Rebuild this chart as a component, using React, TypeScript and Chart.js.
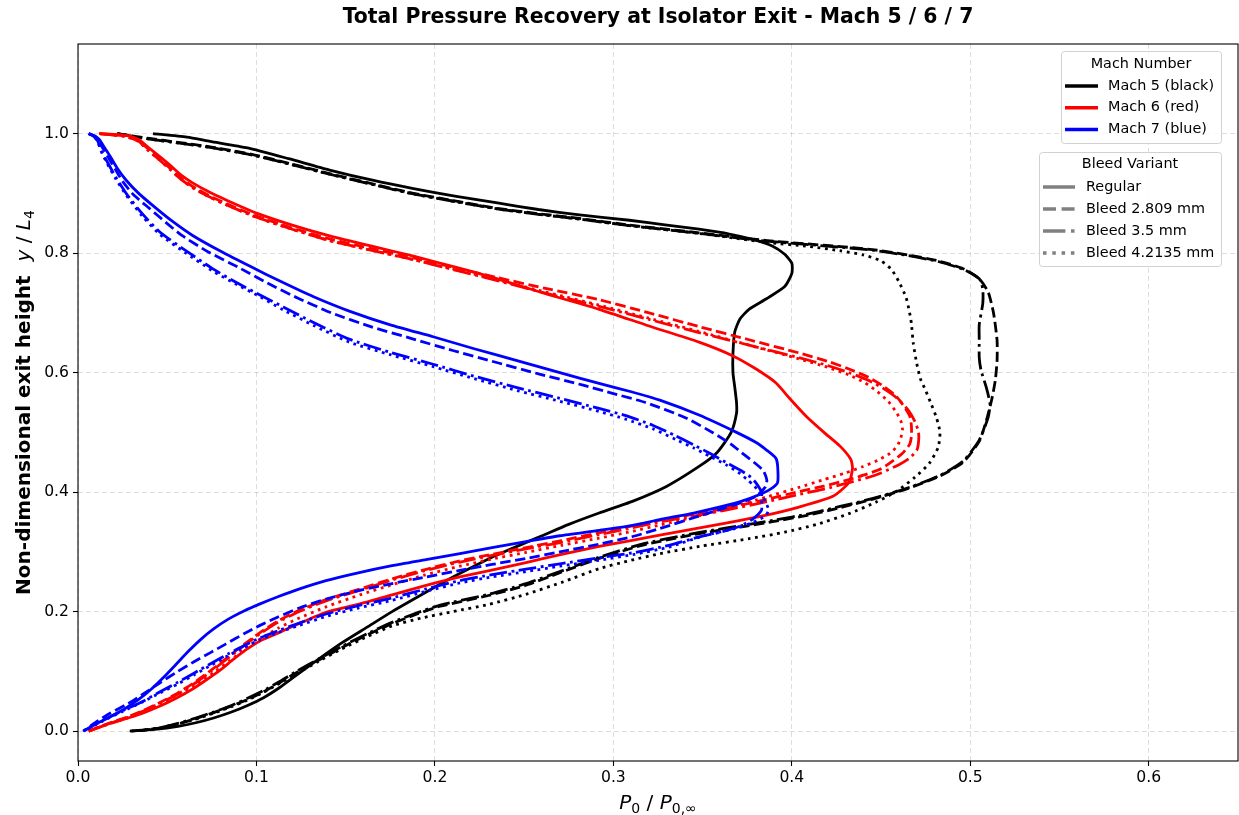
import React, { useEffect, useRef } from 'react';
import { Chart, registerables } from 'chart.js';

Chart.register(...registerables);

type Pt = [number, number];

// ---- Exit profiles: [P0/P0,inf, y/L4] ----

// Mach 5
const mach5Regular: Pt[] = [
  [0.042, 1.0], [0.061, 0.994], [0.074, 0.987], [0.095, 0.976], [0.118, 0.958], [0.141, 0.939], [0.165, 0.922],
  [0.188, 0.908], [0.212, 0.895], [0.235, 0.884], [0.258, 0.873], [0.281, 0.864], [0.309, 0.855], [0.33, 0.847],
  [0.348, 0.84], [0.365, 0.832], [0.378, 0.823], [0.389, 0.812], [0.396, 0.798], [0.4, 0.783], [0.4, 0.766],
  [0.396, 0.744], [0.386, 0.724], [0.376, 0.706], [0.371, 0.69], [0.368, 0.668], [0.367, 0.632], [0.367, 0.6],
  [0.368, 0.576], [0.369, 0.55], [0.369, 0.532], [0.366, 0.5], [0.358, 0.466], [0.348, 0.443], [0.33, 0.41],
  [0.311, 0.385], [0.292, 0.365], [0.275, 0.346], [0.26, 0.327], [0.245, 0.308], [0.232, 0.291], [0.218, 0.27],
  [0.204, 0.248], [0.19, 0.224], [0.176, 0.2], [0.162, 0.174], [0.148, 0.148], [0.135, 0.121], [0.123, 0.095],
  [0.113, 0.073], [0.104, 0.056], [0.095, 0.043], [0.086, 0.032], [0.076, 0.022], [0.066, 0.014], [0.056, 0.008],
  [0.043, 0.003], [0.029, 0.0],
];
const mach5Bleed2809: Pt[] = [
  [0.022, 1.0], [0.04, 0.992], [0.057, 0.985], [0.074, 0.978], [0.098, 0.965], [0.12, 0.949], [0.141, 0.933],
  [0.165, 0.916], [0.188, 0.9], [0.212, 0.887], [0.235, 0.875], [0.258, 0.866], [0.281, 0.858], [0.309, 0.847],
  [0.348, 0.834], [0.386, 0.821], [0.423, 0.812], [0.445, 0.806], [0.465, 0.797], [0.482, 0.787], [0.496, 0.774],
  [0.505, 0.757], [0.51, 0.735], [0.513, 0.7], [0.515, 0.654], [0.515, 0.62], [0.514, 0.587], [0.512, 0.555],
  [0.509, 0.52], [0.505, 0.485], [0.496, 0.45], [0.483, 0.427], [0.464, 0.405], [0.445, 0.388], [0.427, 0.374],
  [0.41, 0.362], [0.39, 0.351], [0.372, 0.342], [0.355, 0.334], [0.34, 0.326], [0.316, 0.311], [0.292, 0.289],
  [0.27, 0.265], [0.25, 0.243], [0.23, 0.227], [0.203, 0.209], [0.19, 0.196], [0.176, 0.18], [0.162, 0.161],
  [0.148, 0.14], [0.135, 0.119], [0.123, 0.099], [0.113, 0.081], [0.104, 0.066], [0.095, 0.053], [0.086, 0.042],
  [0.076, 0.031], [0.066, 0.021], [0.056, 0.012], [0.043, 0.004], [0.03, 0.0],
];
const mach5Bleed35: Pt[] = [
  [0.022, 1.0], [0.04, 0.991], [0.057, 0.984], [0.074, 0.977], [0.098, 0.964], [0.12, 0.948], [0.141, 0.932],
  [0.165, 0.915], [0.188, 0.899], [0.212, 0.886], [0.235, 0.874], [0.258, 0.865], [0.281, 0.857], [0.309, 0.846],
  [0.348, 0.833], [0.386, 0.82], [0.423, 0.811], [0.445, 0.805], [0.465, 0.796], [0.482, 0.786], [0.496, 0.773],
  [0.505, 0.757], [0.507, 0.74], [0.507, 0.716], [0.505, 0.68], [0.505, 0.654], [0.505, 0.625], [0.506, 0.604],
  [0.509, 0.575], [0.511, 0.548], [0.51, 0.525], [0.505, 0.487], [0.496, 0.452], [0.483, 0.428], [0.464, 0.406],
  [0.445, 0.389], [0.427, 0.376], [0.41, 0.364], [0.39, 0.353], [0.372, 0.344], [0.355, 0.336], [0.34, 0.328],
  [0.316, 0.313], [0.292, 0.291], [0.27, 0.267], [0.25, 0.246], [0.23, 0.229], [0.203, 0.211], [0.19, 0.198],
  [0.176, 0.182], [0.162, 0.163], [0.148, 0.142], [0.135, 0.121], [0.123, 0.101], [0.113, 0.083], [0.104, 0.068],
  [0.095, 0.055], [0.086, 0.043], [0.076, 0.032], [0.066, 0.022], [0.056, 0.013], [0.043, 0.004], [0.03, 0.0],
];
const mach5Bleed42135: Pt[] = [
  [0.022, 1.0], [0.04, 0.991], [0.057, 0.984], [0.074, 0.977], [0.098, 0.964], [0.12, 0.948], [0.141, 0.932],
  [0.165, 0.915], [0.188, 0.899], [0.212, 0.886], [0.235, 0.874], [0.258, 0.865], [0.281, 0.857], [0.309, 0.846],
  [0.348, 0.833], [0.386, 0.818], [0.41, 0.811], [0.427, 0.804], [0.44, 0.797], [0.45, 0.787], [0.456, 0.772],
  [0.46, 0.752], [0.464, 0.726], [0.466, 0.7], [0.467, 0.682], [0.468, 0.65], [0.47, 0.615], [0.472, 0.59],
  [0.475, 0.57], [0.478, 0.548], [0.481, 0.525], [0.483, 0.5], [0.482, 0.475], [0.477, 0.448], [0.469, 0.425],
  [0.459, 0.402], [0.447, 0.383], [0.432, 0.364], [0.414, 0.346], [0.396, 0.333], [0.376, 0.322], [0.35, 0.31],
  [0.326, 0.297], [0.31, 0.286], [0.292, 0.272], [0.272, 0.25], [0.251, 0.229], [0.23, 0.212], [0.21, 0.2],
  [0.192, 0.189], [0.176, 0.176], [0.162, 0.158], [0.148, 0.138], [0.135, 0.117], [0.123, 0.097], [0.113, 0.08],
  [0.104, 0.065], [0.095, 0.052], [0.086, 0.041], [0.076, 0.03], [0.066, 0.02], [0.056, 0.012], [0.043, 0.004],
  [0.03, 0.0],
];

// Mach 6
const mach6Regular: Pt[] = [
  [0.012, 1.0], [0.027, 0.997], [0.034, 0.99], [0.039, 0.978], [0.046, 0.961], [0.052, 0.946], [0.058, 0.93],
  [0.064, 0.918], [0.073, 0.903], [0.083, 0.889], [0.1, 0.867], [0.12, 0.847], [0.141, 0.829], [0.164, 0.812],
  [0.188, 0.795], [0.212, 0.776], [0.235, 0.757], [0.262, 0.732], [0.292, 0.706], [0.32, 0.678], [0.348, 0.651],
  [0.367, 0.628], [0.38, 0.606], [0.391, 0.583], [0.399, 0.556], [0.408, 0.527], [0.418, 0.5], [0.427, 0.477],
  [0.433, 0.455], [0.434, 0.44], [0.432, 0.416], [0.423, 0.393], [0.404, 0.375], [0.385, 0.361], [0.363, 0.348],
  [0.326, 0.328], [0.292, 0.309], [0.271, 0.296], [0.251, 0.282], [0.214, 0.258], [0.194, 0.243], [0.176, 0.228],
  [0.158, 0.213], [0.139, 0.199], [0.123, 0.179], [0.112, 0.164], [0.102, 0.151], [0.094, 0.136], [0.087, 0.12],
  [0.08, 0.103], [0.072, 0.086], [0.064, 0.07], [0.055, 0.055], [0.046, 0.042], [0.037, 0.031], [0.028, 0.022],
  [0.016, 0.011], [0.006, 0.0],
];
const mach6Bleed2809: Pt[] = [
  [0.012, 1.0], [0.027, 0.996], [0.034, 0.988], [0.039, 0.975], [0.046, 0.957], [0.052, 0.941], [0.058, 0.925],
  [0.064, 0.912], [0.073, 0.897], [0.083, 0.883], [0.1, 0.862], [0.12, 0.842], [0.141, 0.824], [0.164, 0.808],
  [0.188, 0.792], [0.212, 0.775], [0.235, 0.759], [0.262, 0.741], [0.292, 0.722], [0.32, 0.7], [0.348, 0.677],
  [0.376, 0.655], [0.404, 0.633], [0.42, 0.619], [0.432, 0.606], [0.443, 0.592], [0.451, 0.578], [0.458, 0.562],
  [0.462, 0.547], [0.466, 0.528], [0.467, 0.511], [0.467, 0.493], [0.466, 0.48], [0.462, 0.465], [0.456, 0.451],
  [0.45, 0.439], [0.442, 0.43], [0.432, 0.421], [0.418, 0.41], [0.404, 0.401], [0.386, 0.388], [0.363, 0.373],
  [0.345, 0.363], [0.326, 0.353], [0.31, 0.343], [0.292, 0.332], [0.271, 0.319], [0.251, 0.307], [0.232, 0.296],
  [0.214, 0.285], [0.194, 0.27], [0.176, 0.255], [0.158, 0.238], [0.139, 0.22], [0.123, 0.201], [0.112, 0.184],
  [0.102, 0.165], [0.093, 0.145], [0.084, 0.124], [0.075, 0.103], [0.066, 0.083], [0.056, 0.064], [0.046, 0.048],
  [0.037, 0.035], [0.028, 0.024], [0.016, 0.012], [0.006, 0.0],
];
const mach6Bleed35: Pt[] = [
  [0.012, 1.0], [0.027, 0.995], [0.034, 0.987], [0.039, 0.973], [0.046, 0.955], [0.052, 0.939], [0.058, 0.923],
  [0.064, 0.91], [0.073, 0.895], [0.083, 0.881], [0.1, 0.86], [0.12, 0.84], [0.141, 0.821], [0.164, 0.805],
  [0.188, 0.789], [0.212, 0.771], [0.235, 0.754], [0.262, 0.733], [0.292, 0.711], [0.32, 0.689], [0.348, 0.667],
  [0.376, 0.646], [0.404, 0.625], [0.42, 0.612], [0.432, 0.6], [0.443, 0.587], [0.451, 0.574], [0.459, 0.557],
  [0.465, 0.538], [0.469, 0.518], [0.471, 0.5], [0.471, 0.484], [0.47, 0.47], [0.466, 0.457], [0.46, 0.446],
  [0.45, 0.432], [0.442, 0.424], [0.432, 0.416], [0.418, 0.405], [0.404, 0.396], [0.386, 0.384], [0.363, 0.37],
  [0.345, 0.36], [0.326, 0.35], [0.31, 0.34], [0.292, 0.329], [0.271, 0.316], [0.251, 0.305], [0.232, 0.294],
  [0.214, 0.283], [0.194, 0.268], [0.176, 0.253], [0.158, 0.236], [0.139, 0.218], [0.123, 0.199], [0.112, 0.182],
  [0.102, 0.163], [0.093, 0.143], [0.084, 0.122], [0.075, 0.101], [0.066, 0.081], [0.056, 0.062], [0.046, 0.047],
  [0.037, 0.034], [0.028, 0.023], [0.016, 0.011], [0.006, 0.0],
];
const mach6Bleed42135: Pt[] = [
  [0.012, 1.0], [0.027, 0.995], [0.034, 0.987], [0.039, 0.973], [0.046, 0.955], [0.052, 0.939], [0.058, 0.923],
  [0.064, 0.91], [0.073, 0.895], [0.083, 0.881], [0.1, 0.86], [0.12, 0.84], [0.141, 0.821], [0.164, 0.805],
  [0.188, 0.789], [0.212, 0.772], [0.235, 0.755], [0.262, 0.735], [0.292, 0.713], [0.32, 0.691], [0.348, 0.669],
  [0.376, 0.646], [0.404, 0.623], [0.42, 0.609], [0.432, 0.596], [0.441, 0.583], [0.448, 0.568], [0.454, 0.552],
  [0.458, 0.536], [0.461, 0.52], [0.462, 0.505], [0.461, 0.49], [0.459, 0.477], [0.455, 0.465], [0.448, 0.453],
  [0.44, 0.443], [0.43, 0.432], [0.418, 0.421], [0.404, 0.408], [0.386, 0.392], [0.363, 0.372], [0.345, 0.358],
  [0.326, 0.345], [0.31, 0.334], [0.292, 0.323], [0.271, 0.311], [0.251, 0.299], [0.232, 0.288], [0.214, 0.276],
  [0.194, 0.261], [0.176, 0.245], [0.158, 0.228], [0.139, 0.208], [0.123, 0.188], [0.112, 0.172], [0.103, 0.156],
  [0.094, 0.138], [0.085, 0.118], [0.076, 0.098], [0.067, 0.079], [0.057, 0.061], [0.047, 0.046], [0.037, 0.033],
  [0.028, 0.022], [0.016, 0.011], [0.006, 0.0],
];

// Mach 7
const mach7Regular: Pt[] = [
  [0.006, 1.0], [0.01, 0.995], [0.012, 0.99], [0.015, 0.976], [0.018, 0.962], [0.022, 0.942], [0.027, 0.922],
  [0.034, 0.9], [0.043, 0.877], [0.053, 0.853], [0.064, 0.83], [0.08, 0.803], [0.097, 0.777], [0.114, 0.752],
  [0.132, 0.727], [0.152, 0.703], [0.175, 0.68], [0.199, 0.66], [0.222, 0.64], [0.246, 0.62], [0.27, 0.6],
  [0.292, 0.582], [0.31, 0.568], [0.326, 0.554], [0.348, 0.529], [0.369, 0.5], [0.38, 0.483], [0.386, 0.47],
  [0.391, 0.457], [0.392, 0.445], [0.392, 0.416], [0.388, 0.405], [0.382, 0.396], [0.372, 0.385], [0.361, 0.376],
  [0.345, 0.365], [0.326, 0.354], [0.31, 0.344], [0.292, 0.336], [0.27, 0.327], [0.251, 0.317], [0.232, 0.307],
  [0.214, 0.297], [0.195, 0.287], [0.176, 0.277], [0.157, 0.265], [0.139, 0.252], [0.125, 0.239], [0.112, 0.225],
  [0.102, 0.213], [0.093, 0.201], [0.084, 0.187], [0.076, 0.171], [0.069, 0.154], [0.062, 0.134], [0.055, 0.112],
  [0.048, 0.09], [0.041, 0.07], [0.034, 0.053], [0.026, 0.037], [0.018, 0.024], [0.01, 0.012], [0.003, 0.0],
];
const mach7Bleed2809: Pt[] = [
  [0.006, 1.0], [0.01, 0.995], [0.011, 0.99], [0.014, 0.975], [0.017, 0.96], [0.021, 0.94], [0.025, 0.92],
  [0.031, 0.898], [0.04, 0.875], [0.049, 0.852], [0.058, 0.83], [0.073, 0.802], [0.09, 0.776], [0.106, 0.75],
  [0.123, 0.725], [0.142, 0.7], [0.164, 0.677], [0.187, 0.657], [0.21, 0.637], [0.232, 0.619], [0.258, 0.598],
  [0.283, 0.579], [0.3, 0.565], [0.318, 0.55], [0.34, 0.525], [0.356, 0.499], [0.366, 0.48], [0.374, 0.461],
  [0.38, 0.447], [0.384, 0.436], [0.386, 0.42], [0.385, 0.408], [0.38, 0.393], [0.371, 0.382], [0.363, 0.374],
  [0.348, 0.36], [0.326, 0.339], [0.31, 0.325], [0.292, 0.313], [0.27, 0.3], [0.251, 0.289], [0.232, 0.279],
  [0.214, 0.269], [0.195, 0.258], [0.176, 0.247], [0.157, 0.235], [0.139, 0.221], [0.124, 0.206], [0.112, 0.191],
  [0.102, 0.177], [0.093, 0.163], [0.083, 0.146], [0.074, 0.131], [0.065, 0.116], [0.056, 0.1], [0.046, 0.081],
  [0.037, 0.063], [0.028, 0.046], [0.018, 0.03], [0.01, 0.015], [0.003, 0.0],
];
const mach7Bleed35: Pt[] = [
  [0.006, 1.0], [0.009, 0.995], [0.011, 0.988], [0.013, 0.972], [0.016, 0.955], [0.021, 0.928], [0.027, 0.9],
  [0.036, 0.866], [0.046, 0.835], [0.06, 0.805], [0.075, 0.775], [0.088, 0.752], [0.102, 0.73], [0.115, 0.71],
  [0.132, 0.684], [0.152, 0.656], [0.175, 0.634], [0.199, 0.614], [0.222, 0.594], [0.246, 0.575], [0.27, 0.557],
  [0.292, 0.54], [0.307, 0.528], [0.322, 0.512], [0.335, 0.494], [0.345, 0.479], [0.354, 0.465], [0.363, 0.45],
  [0.371, 0.437], [0.377, 0.425], [0.38, 0.415], [0.383, 0.4], [0.383, 0.385], [0.383, 0.37], [0.378, 0.355],
  [0.371, 0.343], [0.36, 0.333], [0.348, 0.325], [0.331, 0.311], [0.312, 0.299], [0.292, 0.29], [0.27, 0.28],
  [0.251, 0.271], [0.232, 0.262], [0.214, 0.252], [0.195, 0.238], [0.176, 0.223], [0.157, 0.21], [0.139, 0.196],
  [0.124, 0.181], [0.112, 0.168], [0.102, 0.156], [0.093, 0.143], [0.084, 0.129], [0.075, 0.114], [0.065, 0.097],
  [0.056, 0.082], [0.046, 0.066], [0.037, 0.051], [0.025, 0.034], [0.014, 0.018], [0.003, 0.0],
];
const mach7Bleed42135: Pt[] = [
  [0.006, 1.0], [0.009, 0.995], [0.011, 0.987], [0.013, 0.97], [0.016, 0.952], [0.021, 0.925], [0.027, 0.897],
  [0.036, 0.862], [0.046, 0.831], [0.06, 0.801], [0.075, 0.771], [0.088, 0.749], [0.102, 0.727], [0.115, 0.705],
  [0.132, 0.679], [0.152, 0.651], [0.175, 0.63], [0.199, 0.61], [0.222, 0.59], [0.246, 0.57], [0.27, 0.552],
  [0.292, 0.535], [0.307, 0.522], [0.322, 0.506], [0.335, 0.488], [0.345, 0.474], [0.354, 0.46], [0.363, 0.446],
  [0.37, 0.433], [0.375, 0.421], [0.379, 0.41], [0.382, 0.4], [0.385, 0.385], [0.387, 0.37], [0.385, 0.36],
  [0.378, 0.349], [0.368, 0.339], [0.352, 0.328], [0.331, 0.308], [0.312, 0.296], [0.292, 0.286], [0.27, 0.276],
  [0.251, 0.267], [0.232, 0.258], [0.214, 0.248], [0.195, 0.234], [0.176, 0.219], [0.157, 0.206], [0.139, 0.192],
  [0.124, 0.177], [0.112, 0.165], [0.102, 0.153], [0.093, 0.14], [0.084, 0.126], [0.075, 0.111], [0.065, 0.094],
  [0.056, 0.079], [0.046, 0.064], [0.037, 0.05], [0.025, 0.033], [0.014, 0.017], [0.003, 0.0],
];

// ---- Labels and ticks ----
const machNames = ['Mach 5 (black)', 'Mach 6 (red)', 'Mach 7 (blue)'];
const bleedNames = ['Regular', 'Bleed 2.809 mm', 'Bleed 3.5 mm', 'Bleed 4.2135 mm'];
const xTickValues = [0, 0.1, 0.2, 0.3, 0.4, 0.5, 0.6];
const yTickValues = [0, 0.2, 0.4, 0.6, 0.8, 1.0];

const profiles: Pt[][][] = [
  [mach5Regular, mach5Bleed2809, mach5Bleed35, mach5Bleed42135],
  [mach6Regular, mach6Bleed2809, mach6Bleed35, mach6Bleed42135],
  [mach7Regular, mach7Bleed2809, mach7Bleed35, mach7Bleed42135],
];

// ---- Styling ----
const FONT = '"DejaVu Sans", "Liberation Sans", sans-serif';
const TITLE = 'Total Pressure Recovery at Isolator Exit - Mach 5 / 6 / 7';
const machColors = ['#000000', '#ff0000', '#0000ff'];
const LINE_W = 2.8;
const bleedDash: number[][] = [[], [10.4, 4.5], [17.9, 4.5, 2.8, 4.5], [2.8, 4.6]];
const LEGEND_W = 3.5;
const legendDash: number[][] = [[], [13, 5.6], [22.4, 5.6, 3.5, 5.6], [3.5, 5.8]];
const TICK_FONT_SIZE = 15.6;

type Run = { text: string; font: string; dy?: number };

function drawRuns(ctx: CanvasRenderingContext2D, runs: Run[], cx: number, baseline: number) {
  const widths = runs.map((r) => {
    ctx.font = r.font;
    return ctx.measureText(r.text).width;
  });
  const total = widths.reduce((s, w) => s + w, 0);
  let x = cx - total / 2;
  ctx.textAlign = 'left';
  ctx.textBaseline = 'alphabetic';
  runs.forEach((r, i) => {
    ctx.font = r.font;
    ctx.fillText(r.text, x, baseline + (r.dy || 0));
    x += widths[i];
  });
}

function roundRect(ctx: CanvasRenderingContext2D, l: number, t: number, r: number, b: number, rad: number) {
  ctx.beginPath();
  ctx.moveTo(l + rad, t);
  ctx.lineTo(r - rad, t);
  ctx.quadraticCurveTo(r, t, r, t + rad);
  ctx.lineTo(r, b - rad);
  ctx.quadraticCurveTo(r, b, r - rad, b);
  ctx.lineTo(l + rad, b);
  ctx.quadraticCurveTo(l, b, l, b - rad);
  ctx.lineTo(l, t + rad);
  ctx.quadraticCurveTo(l, t, l + rad, t);
  ctx.closePath();
}

function legendBox(ctx: CanvasRenderingContext2D, l: number, t: number, r: number, b: number) {
  roundRect(ctx, l + 0.5, t + 0.5, r + 0.5, b + 0.5, 3);
  ctx.fillStyle = 'rgba(255,255,255,0.85)';
  ctx.fill();
  ctx.strokeStyle = 'rgba(204,204,204,0.9)';
  ctx.lineWidth = 1;
  ctx.setLineDash([]);
  ctx.stroke();
}

function handle(ctx: CanvasRenderingContext2D, x1: number, x2: number, y: number, color: string, dash: number[]) {
  ctx.save();
  ctx.beginPath();
  ctx.setLineDash(dash);
  ctx.lineCap = 'butt';
  ctx.strokeStyle = color;
  ctx.lineWidth = LEGEND_W;
  ctx.moveTo(x1, y);
  ctx.lineTo(x2, y);
  ctx.stroke();
  ctx.restore();
}

const decorPlugin = {
  id: 'decor',
  afterDraw(chart: any) {
    const ctx: CanvasRenderingContext2D = chart.ctx;
    const a = chart.chartArea;
    ctx.save();

    // axes frame
    ctx.setLineDash([]);
    ctx.strokeStyle = '#000';
    ctx.lineWidth = 1.1;
    ctx.strokeRect(a.left, a.top, a.right - a.left, a.bottom - a.top);

    // title
    ctx.fillStyle = '#000';
    ctx.font = `bold 20.4px ${FONT}`;
    ctx.textAlign = 'center';
    ctx.textBaseline = 'alphabetic';
    ctx.fillText(TITLE, (a.left + a.right) / 2, 23);

    // x axis label
    drawRuns(
      ctx,
      [
        { text: 'P', font: `italic 20px ${FONT}` },
        { text: '0', font: `14px ${FONT}`, dy: 4 },
        { text: ' / ', font: `20px ${FONT}` },
        { text: 'P', font: `italic 20px ${FONT}` },
        { text: '0,∞', font: `14px ${FONT}`, dy: 4 },
      ],
      (a.left + a.right) / 2,
      809,
    );

    // y axis label
    ctx.save();
    ctx.translate(30, (a.top + a.bottom) / 2);
    ctx.rotate(-Math.PI / 2);
    drawRuns(
      ctx,
      [
        { text: 'Non-dimensional exit height  ', font: `bold 20px ${FONT}` },
        { text: 'y', font: `italic 20px ${FONT}` },
        { text: ' / ', font: `20px ${FONT}` },
        { text: 'L', font: `italic 20px ${FONT}` },
        { text: '4', font: `14px ${FONT}`, dy: 4 },
      ],
      0,
      0,
    );
    ctx.restore();

    // legend: Mach number
    const r = a.right - 17;
    let l = r - 160;
    let t = a.top + 7;
    legendBox(ctx, l, t, r, t + 92);
    ctx.fillStyle = '#000';
    ctx.font = `14.4px ${FONT}`;
    ctx.textAlign = 'center';
    ctx.textBaseline = 'middle';
    ctx.fillText('Mach Number', (l + r) / 2, t + 13);
    machNames.forEach((name, i) => {
      const y = t + 35 + i * 21.7;
      handle(ctx, l + 4, l + 37, y, machColors[i], []);
      ctx.fillStyle = '#000';
      ctx.font = `14.4px ${FONT}`;
      ctx.textAlign = 'left';
      ctx.textBaseline = 'middle';
      ctx.fillText(name, l + 47, y);
    });

    // legend: bleed variant
    l = r - 182;
    t = a.top + 108;
    legendBox(ctx, l, t, r, t + 114);
    ctx.fillStyle = '#000';
    ctx.font = `14.4px ${FONT}`;
    ctx.textAlign = 'center';
    ctx.textBaseline = 'middle';
    ctx.fillText('Bleed Variant', (l + r) / 2, t + 12);
    bleedNames.forEach((name, i) => {
      const y = t + 35 + i * 22;
      handle(ctx, l + 4, l + 36, y, '#808080', legendDash[i]);
      ctx.fillStyle = '#000';
      ctx.font = `14.4px ${FONT}`;
      ctx.textAlign = 'left';
      ctx.textBaseline = 'middle';
      ctx.fillText(name, l + 47, y);
    });

    ctx.restore();
  },
};

export default function App() {
  const canvasRef = useRef<HTMLCanvasElement | null>(null);

  useEffect(() => {
    const canvas = canvasRef.current;
    if (!canvas) return;

    const datasets: any[] = [];
    profiles.forEach((set, m) =>
      set.forEach((pts, b) => {
        datasets.push({
          label: `${machNames[m]} – ${bleedNames[b]}`,
          data: pts.map(([x, y]) => ({ x, y })),
          borderColor: machColors[m],
          backgroundColor: machColors[m],
          borderWidth: LINE_W,
          borderDash: bleedDash[b],
          borderCapStyle: 'butt',
          borderJoinStyle: 'round',
          pointRadius: 0,
          pointHoverRadius: 0,
          showLine: true,
          fill: false,
          tension: 0.2,
          order: (2 - m) * 10 + b,
        });
      }),
    );

    const gridCommon = {
      color: 'rgba(176,176,176,0.55)',
      lineWidth: 0.8,
      drawTicks: true,
      tickLength: 5,
      tickColor: '#000',
      tickWidth: 1.1,
      tickBorderDash: [],
    };

    const chart = new Chart(canvas, {
      type: 'scatter',
      data: { datasets },
      plugins: [decorPlugin],
      options: {
        responsive: false,
        devicePixelRatio: 1,
        animation: false,
        events: [],
        layout: { padding: { top: 44, right: 1, bottom: 0, left: 0 } },
        plugins: {
          legend: { display: false },
          title: { display: false },
          tooltip: { enabled: false },
        },
        scales: {
          x: {
            type: 'linear',
            min: 0,
            max: 0.65,
            afterBuildTicks: (s: any) => {
              s.ticks = xTickValues.map((v) => ({ value: v }));
            },
            afterFit: (s: any) => {
              s.height = 54;
            },
            ticks: {
              color: '#000',
              font: { family: FONT, size: TICK_FONT_SIZE },
              padding: 3,
              maxRotation: 0,
              autoSkip: false,
              callback: (v: any) => Number(v).toFixed(1),
            },
            grid: gridCommon,
            border: { display: false, dash: [5, 3] },
          },
          y: {
            type: 'linear',
            min: -0.05,
            max: 1.15,
            afterBuildTicks: (s: any) => {
              s.ticks = yTickValues.map((v) => ({ value: v }));
            },
            afterFit: (s: any) => {
              s.width = 78;
            },
            ticks: {
              color: '#000',
              font: { family: FONT, size: TICK_FONT_SIZE },
              padding: 4,
              autoSkip: false,
              callback: (v: any) => Number(v).toFixed(1),
            },
            grid: gridCommon,
            border: { display: false, dash: [5, 3] },
          },
        },
      } as any,
    });

    return () => chart.destroy();
  }, []);

  return (
    <div style={{ position: 'fixed', left: 0, top: 0, width: 1239, height: 815, background: '#fff' }}>
      <canvas ref={canvasRef} width={1239} height={815} style={{ width: 1239, height: 815, display: 'block' }} />
    </div>
  );
}
